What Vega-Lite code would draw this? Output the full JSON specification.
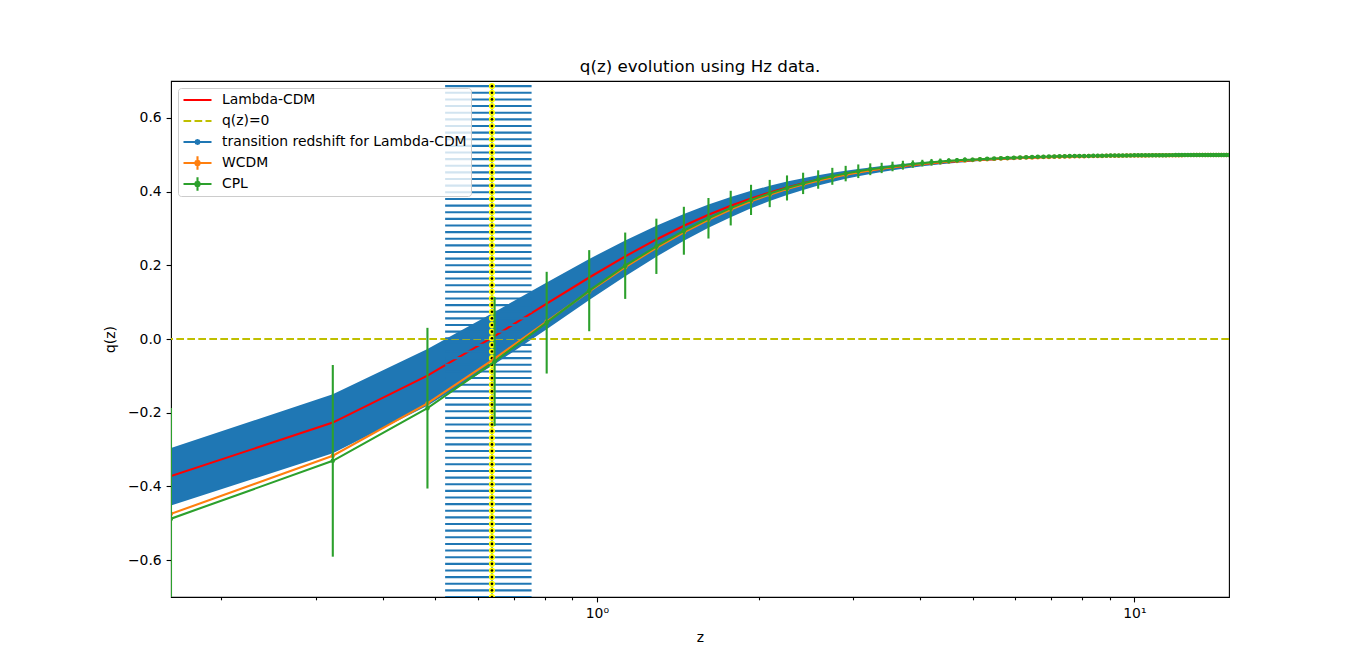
{
  "$schema": "https://vega.github.io/schema/vega-lite/v6.json",
  "width": 1058,
  "height": 516,
  "autosize": {"type": "none"},
  "padding": {"left": 171, "top": 81, "right": 137, "bottom": 74},
  "background": "white",
  "title": {"text": "q(z) evolution using Hz data.", "fontSize": 16.7, "font": "DejaVu Sans", "fontWeight": "normal", "offset": 5, "color": "black", "anchor": "middle"},
  "config": {
    "view": {"stroke": "black", "strokeWidth": 1.1},
    "axis": {"domain": false, "grid": false, "ticks": true, "tickColor": "black", "tickWidth": 1.1, "tickSize": 4.9, "labelPadding": 4.9, "labelFont": "DejaVu Sans", "labelFontSize": 13.9, "labelColor": "black", "titleFont": "DejaVu Sans", "titleFontSize": 13.9, "titleFontWeight": "normal", "titleColor": "black"},
    "legend": {"labelFont": "DejaVu Sans", "labelFontSize": 13.9, "labelColor": "black", "labelLimit": 400}
  },
  "datasets": {
    "curves": [
      {"z": 0.1613, "l": -0.3720, "lo": -0.4516, "hi": -0.2959, "w": -0.4744, "c": -0.4874, "e": 0.30},
      {"z": 0.3226, "l": -0.2268, "lo": -0.3102, "hi": -0.1502, "w": -0.3166, "c": -0.3306, "e": 0.26},
      {"z": 0.4839, "l": -0.0994, "lo": -0.1811, "hi": -0.0271, "w": -0.1747, "c": -0.1877, "e": 0.218},
      {"z": 0.6452, "l": 0.0078, "lo": -0.0685, "hi": 0.0733, "w": -0.0532, "c": -0.0612, "e": 0.175},
      {"z": 0.8065, "l": 0.0958, "lo": 0.0267, "hi": 0.1536, "w": 0.0473, "c": 0.0443, "e": 0.138},
      {"z": 0.9677, "l": 0.1669, "lo": 0.1057, "hi": 0.2172, "w": 0.1291, "c": 0.1311, "e": 0.11},
      {"z": 1.1290, "l": 0.2241, "lo": 0.1704, "hi": 0.2675, "w": 0.1948, "c": 0.1988, "e": 0.09},
      {"z": 1.2903, "l": 0.2701, "lo": 0.2233, "hi": 0.3074, "w": 0.2475, "c": 0.2515, "e": 0.075},
      {"z": 1.4516, "l": 0.3071, "lo": 0.2664, "hi": 0.3391, "w": 0.2897, "c": 0.2937, "e": 0.065},
      {"z": 1.6129, "l": 0.3370, "lo": 0.3017, "hi": 0.3646, "w": 0.3236, "c": 0.3276, "e": 0.055},
      {"z": 1.7742, "l": 0.3613, "lo": 0.3306, "hi": 0.3852, "w": 0.3511, "c": 0.3551, "e": 0.047},
      {"z": 1.9355, "l": 0.3813, "lo": 0.3545, "hi": 0.4019, "w": 0.3734, "c": 0.3774, "e": 0.041},
      {"z": 2.0968, "l": 0.3977, "lo": 0.3743, "hi": 0.4156, "w": 0.3917, "c": 0.3947, "e": 0.037},
      {"z": 2.2581, "l": 0.4112, "lo": 0.3907, "hi": 0.4270, "w": 0.4068, "c": 0.4098, "e": 0.034},
      {"z": 2.4194, "l": 0.4226, "lo": 0.4045, "hi": 0.4364, "w": 0.4192, "c": 0.4222, "e": 0.029},
      {"z": 2.5806, "l": 0.4322, "lo": 0.4162, "hi": 0.4443, "w": 0.4297, "c": 0.4327, "e": 0.025},
      {"z": 2.7419, "l": 0.4402, "lo": 0.4260, "hi": 0.4510, "w": 0.4384, "c": 0.4414, "e": 0.023},
      {"z": 2.9032, "l": 0.4471, "lo": 0.4345, "hi": 0.4566, "w": 0.4458, "c": 0.4488, "e": 0.021},
      {"z": 3.0645, "l": 0.4529, "lo": 0.4417, "hi": 0.4615, "w": 0.4521, "c": 0.4551, "e": 0.0185},
      {"z": 3.2258, "l": 0.4580, "lo": 0.4479, "hi": 0.4656, "w": 0.4575, "c": 0.4605, "e": 0.016},
      {"z": 3.3871, "l": 0.4623, "lo": 0.4532, "hi": 0.4692, "w": 0.4621, "c": 0.4641, "e": 0.014},
      {"z": 3.5484, "l": 0.4661, "lo": 0.4579, "hi": 0.4723, "w": 0.4661, "c": 0.4681, "e": 0.013},
      {"z": 3.7097, "l": 0.4694, "lo": 0.4620, "hi": 0.4750, "w": 0.4696, "c": 0.4716, "e": 0.012},
      {"z": 3.8710, "l": 0.4723, "lo": 0.4655, "hi": 0.4774, "w": 0.4726, "c": 0.4746, "e": 0.010},
      {"z": 4.0323, "l": 0.4748, "lo": 0.4687, "hi": 0.4794, "w": 0.4752, "c": 0.4772, "e": 0.009},
      {"z": 4.1935, "l": 0.4771, "lo": 0.4715, "hi": 0.4813, "w": 0.4775, "c": 0.4795, "e": 0.009},
      {"z": 4.3548, "l": 0.4791, "lo": 0.4739, "hi": 0.4829, "w": 0.4796, "c": 0.4816, "e": 0.008},
      {"z": 4.5161, "l": 0.4808, "lo": 0.4761, "hi": 0.4843, "w": 0.4814, "c": 0.4834, "e": 0.007},
      {"z": 4.6774, "l": 0.4824, "lo": 0.4781, "hi": 0.4856, "w": 0.4830, "c": 0.4850, "e": 0.006},
      {"z": 4.8387, "l": 0.4838, "lo": 0.4798, "hi": 0.4868, "w": 0.4844, "c": 0.4864, "e": 0.006},
      {"z": 5.0, "l": 0.4850, "lo": 0.4814, "hi": 0.4878, "w": 0.4857, "c": 0.4867, "e": 0.005},
      {"z": 5.1613, "l": 0.4862, "lo": 0.4828, "hi": 0.4887, "w": 0.4868, "c": 0.4878, "e": 0.005},
      {"z": 5.3226, "l": 0.4872, "lo": 0.4840, "hi": 0.4896, "w": 0.4878, "c": 0.4888, "e": 0.004},
      {"z": 5.4839, "l": 0.4881, "lo": 0.4852, "hi": 0.4903, "w": 0.4887, "c": 0.4897, "e": 0.004},
      {"z": 5.6452, "l": 0.4890, "lo": 0.4862, "hi": 0.4910, "w": 0.4896, "c": 0.4906, "e": 0.004},
      {"z": 5.8065, "l": 0.4897, "lo": 0.4872, "hi": 0.4916, "w": 0.4903, "c": 0.4913, "e": 0.003},
      {"z": 5.9677, "l": 0.4904, "lo": 0.4880, "hi": 0.4922, "w": 0.4910, "c": 0.4920, "e": 0.003},
      {"z": 6.1290, "l": 0.4911, "lo": 0.4888, "hi": 0.4927, "w": 0.4916, "c": 0.4926, "e": 0.003},
      {"z": 6.2903, "l": 0.4916, "lo": 0.4896, "hi": 0.4932, "w": 0.4922, "c": 0.4932, "e": 0.003},
      {"z": 6.4516, "l": 0.4922, "lo": 0.4902, "hi": 0.4936, "w": 0.4927, "c": 0.4937, "e": 0.003},
      {"z": 6.6129, "l": 0.4926, "lo": 0.4908, "hi": 0.4940, "w": 0.4932, "c": 0.4942, "e": 0.002},
      {"z": 6.7742, "l": 0.4931, "lo": 0.4914, "hi": 0.4944, "w": 0.4936, "c": 0.4946, "e": 0.002},
      {"z": 6.9355, "l": 0.4935, "lo": 0.4919, "hi": 0.4947, "w": 0.4940, "c": 0.4950, "e": 0.002},
      {"z": 7.0968, "l": 0.4939, "lo": 0.4924, "hi": 0.4950, "w": 0.4944, "c": 0.4954, "e": 0.002},
      {"z": 7.2581, "l": 0.4942, "lo": 0.4928, "hi": 0.4953, "w": 0.4947, "c": 0.4957, "e": 0.002},
      {"z": 7.4194, "l": 0.4946, "lo": 0.4932, "hi": 0.4956, "w": 0.4950, "c": 0.4960, "e": 0.002},
      {"z": 7.5806, "l": 0.4949, "lo": 0.4936, "hi": 0.4958, "w": 0.4953, "c": 0.4963, "e": 0.002},
      {"z": 7.7419, "l": 0.4951, "lo": 0.4939, "hi": 0.4960, "w": 0.4956, "c": 0.4966, "e": 0.002},
      {"z": 7.9032, "l": 0.4954, "lo": 0.4942, "hi": 0.4962, "w": 0.4958, "c": 0.4968, "e": 0.002},
      {"z": 8.0645, "l": 0.4956, "lo": 0.4945, "hi": 0.4964, "w": 0.4961, "c": 0.4966, "e": 0.002},
      {"z": 8.2258, "l": 0.4959, "lo": 0.4948, "hi": 0.4966, "w": 0.4963, "c": 0.4968, "e": 0.002},
      {"z": 8.3871, "l": 0.4961, "lo": 0.4951, "hi": 0.4968, "w": 0.4965, "c": 0.4970, "e": 0.002},
      {"z": 8.5484, "l": 0.4963, "lo": 0.4953, "hi": 0.4970, "w": 0.4967, "c": 0.4972, "e": 0.002},
      {"z": 8.7097, "l": 0.4964, "lo": 0.4956, "hi": 0.4971, "w": 0.4968, "c": 0.4973, "e": 0.002},
      {"z": 8.8710, "l": 0.4966, "lo": 0.4958, "hi": 0.4972, "w": 0.4970, "c": 0.4975, "e": 0.002},
      {"z": 9.0323, "l": 0.4968, "lo": 0.4960, "hi": 0.4974, "w": 0.4971, "c": 0.4976, "e": 0.002},
      {"z": 9.1935, "l": 0.4969, "lo": 0.4962, "hi": 0.4975, "w": 0.4973, "c": 0.4978, "e": 0.002},
      {"z": 9.3548, "l": 0.4971, "lo": 0.4963, "hi": 0.4976, "w": 0.4974, "c": 0.4979, "e": 0.002},
      {"z": 9.5161, "l": 0.4972, "lo": 0.4965, "hi": 0.4977, "w": 0.4975, "c": 0.4980, "e": 0.002},
      {"z": 9.6774, "l": 0.4973, "lo": 0.4967, "hi": 0.4978, "w": 0.4976, "c": 0.4981, "e": 0.002},
      {"z": 9.8387, "l": 0.4974, "lo": 0.4968, "hi": 0.4979, "w": 0.4978, "c": 0.4982, "e": 0.001},
      {"z": 10.0, "l": 0.4976, "lo": 0.4969, "hi": 0.4980, "w": 0.4979, "c": 0.4983, "e": 0.001},
      {"z": 10.1613, "l": 0.4977, "lo": 0.4971, "hi": 0.4981, "w": 0.4980, "c": 0.4984, "e": 0.001},
      {"z": 10.3226, "l": 0.4978, "lo": 0.4972, "hi": 0.4982, "w": 0.4980, "c": 0.4984, "e": 0.001},
      {"z": 10.4839, "l": 0.4978, "lo": 0.4973, "hi": 0.4982, "w": 0.4981, "c": 0.4985, "e": 0.001},
      {"z": 10.6452, "l": 0.4979, "lo": 0.4974, "hi": 0.4983, "w": 0.4982, "c": 0.4985, "e": 0.001},
      {"z": 10.8065, "l": 0.4980, "lo": 0.4975, "hi": 0.4984, "w": 0.4983, "c": 0.4986, "e": 0.001},
      {"z": 10.9677, "l": 0.4981, "lo": 0.4976, "hi": 0.4985, "w": 0.4984, "c": 0.4987, "e": 0.001},
      {"z": 11.1290, "l": 0.4982, "lo": 0.4977, "hi": 0.4985, "w": 0.4984, "c": 0.4987, "e": 0.001},
      {"z": 11.2903, "l": 0.4982, "lo": 0.4978, "hi": 0.4986, "w": 0.4985, "c": 0.4988, "e": 0.001},
      {"z": 11.4516, "l": 0.4983, "lo": 0.4979, "hi": 0.4986, "w": 0.4985, "c": 0.4988, "e": 0.001},
      {"z": 11.6129, "l": 0.4984, "lo": 0.4980, "hi": 0.4987, "w": 0.4986, "c": 0.4989, "e": 0.001},
      {"z": 11.7742, "l": 0.4984, "lo": 0.4980, "hi": 0.4987, "w": 0.4987, "c": 0.4989, "e": 0.001},
      {"z": 11.9355, "l": 0.4985, "lo": 0.4981, "hi": 0.4988, "w": 0.4987, "c": 0.4990, "e": 0.001},
      {"z": 12.0968, "l": 0.4985, "lo": 0.4982, "hi": 0.4988, "w": 0.4988, "c": 0.4990, "e": 0.001},
      {"z": 12.2581, "l": 0.4986, "lo": 0.4983, "hi": 0.4989, "w": 0.4988, "c": 0.4990, "e": 0.001},
      {"z": 12.4194, "l": 0.4987, "lo": 0.4983, "hi": 0.4989, "w": 0.4989, "c": 0.4991, "e": 0.001},
      {"z": 12.5806, "l": 0.4987, "lo": 0.4984, "hi": 0.4989, "w": 0.4989, "c": 0.4991, "e": 0.001},
      {"z": 12.7419, "l": 0.4987, "lo": 0.4984, "hi": 0.4990, "w": 0.4989, "c": 0.4991, "e": 0.001},
      {"z": 12.9032, "l": 0.4988, "lo": 0.4985, "hi": 0.4990, "w": 0.4990, "c": 0.4992, "e": 0.001},
      {"z": 13.0645, "l": 0.4988, "lo": 0.4985, "hi": 0.4990, "w": 0.4990, "c": 0.4992, "e": 0.001},
      {"z": 13.2258, "l": 0.4989, "lo": 0.4986, "hi": 0.4991, "w": 0.4990, "c": 0.4992, "e": 0.001},
      {"z": 13.3871, "l": 0.4989, "lo": 0.4986, "hi": 0.4991, "w": 0.4991, "c": 0.4993, "e": 0.001},
      {"z": 13.5484, "l": 0.4989, "lo": 0.4987, "hi": 0.4991, "w": 0.4991, "c": 0.4993, "e": 0.001},
      {"z": 13.7097, "l": 0.4990, "lo": 0.4987, "hi": 0.4992, "w": 0.4991, "c": 0.4993, "e": 0.001},
      {"z": 13.8710, "l": 0.4990, "lo": 0.4988, "hi": 0.4992, "w": 0.4992, "c": 0.4993, "e": 0.001},
      {"z": 14.0323, "l": 0.4990, "lo": 0.4988, "hi": 0.4992, "w": 0.4992, "c": 0.4994, "e": 0.001},
      {"z": 14.1935, "l": 0.4991, "lo": 0.4988, "hi": 0.4992, "w": 0.4992, "c": 0.4994, "e": 0.001},
      {"z": 14.3548, "l": 0.4991, "lo": 0.4989, "hi": 0.4993, "w": 0.4993, "c": 0.4994, "e": 0.001},
      {"z": 14.5161, "l": 0.4991, "lo": 0.4989, "hi": 0.4993, "w": 0.4993, "c": 0.4994, "e": 0.001},
      {"z": 14.6774, "l": 0.4992, "lo": 0.4989, "hi": 0.4993, "w": 0.4993, "c": 0.4995, "e": 0.001},
      {"z": 14.8387, "l": 0.4992, "lo": 0.4990, "hi": 0.4993, "w": 0.4993, "c": 0.4995, "e": 0.001},
      {"z": 15.0, "l": 0.4992, "lo": 0.4990, "hi": 0.4994, "w": 0.4993, "c": 0.4995, "e": 0.001}
    ],
    "trans": [
      {"zt": 0.638, "zlo": 0.522, "zhi": 0.756, "q": -0.700},
      {"zt": 0.638, "zlo": 0.522, "zhi": 0.756, "q": -0.682},
      {"zt": 0.638, "zlo": 0.522, "zhi": 0.756, "q": -0.664},
      {"zt": 0.638, "zlo": 0.522, "zhi": 0.756, "q": -0.646},
      {"zt": 0.638, "zlo": 0.522, "zhi": 0.756, "q": -0.628},
      {"zt": 0.638, "zlo": 0.522, "zhi": 0.756, "q": -0.610},
      {"zt": 0.638, "zlo": 0.522, "zhi": 0.756, "q": -0.592},
      {"zt": 0.638, "zlo": 0.522, "zhi": 0.756, "q": -0.574},
      {"zt": 0.638, "zlo": 0.522, "zhi": 0.756, "q": -0.556},
      {"zt": 0.638, "zlo": 0.522, "zhi": 0.756, "q": -0.538},
      {"zt": 0.638, "zlo": 0.522, "zhi": 0.756, "q": -0.520},
      {"zt": 0.638, "zlo": 0.522, "zhi": 0.756, "q": -0.502},
      {"zt": 0.638, "zlo": 0.522, "zhi": 0.756, "q": -0.484},
      {"zt": 0.638, "zlo": 0.522, "zhi": 0.756, "q": -0.466},
      {"zt": 0.638, "zlo": 0.522, "zhi": 0.756, "q": -0.448},
      {"zt": 0.638, "zlo": 0.522, "zhi": 0.756, "q": -0.430},
      {"zt": 0.638, "zlo": 0.522, "zhi": 0.756, "q": -0.412},
      {"zt": 0.638, "zlo": 0.522, "zhi": 0.756, "q": -0.394},
      {"zt": 0.638, "zlo": 0.522, "zhi": 0.756, "q": -0.376},
      {"zt": 0.638, "zlo": 0.522, "zhi": 0.756, "q": -0.358},
      {"zt": 0.638, "zlo": 0.522, "zhi": 0.756, "q": -0.340},
      {"zt": 0.638, "zlo": 0.522, "zhi": 0.756, "q": -0.322},
      {"zt": 0.638, "zlo": 0.522, "zhi": 0.756, "q": -0.304},
      {"zt": 0.638, "zlo": 0.522, "zhi": 0.756, "q": -0.286},
      {"zt": 0.638, "zlo": 0.522, "zhi": 0.756, "q": -0.268},
      {"zt": 0.638, "zlo": 0.522, "zhi": 0.756, "q": -0.250},
      {"zt": 0.638, "zlo": 0.522, "zhi": 0.756, "q": -0.232},
      {"zt": 0.638, "zlo": 0.522, "zhi": 0.756, "q": -0.214},
      {"zt": 0.638, "zlo": 0.522, "zhi": 0.756, "q": -0.196},
      {"zt": 0.638, "zlo": 0.522, "zhi": 0.756, "q": -0.178},
      {"zt": 0.638, "zlo": 0.522, "zhi": 0.756, "q": -0.160},
      {"zt": 0.638, "zlo": 0.522, "zhi": 0.756, "q": -0.142},
      {"zt": 0.638, "zlo": 0.522, "zhi": 0.756, "q": -0.124},
      {"zt": 0.638, "zlo": 0.522, "zhi": 0.756, "q": -0.106},
      {"zt": 0.638, "zlo": 0.522, "zhi": 0.756, "q": -0.088},
      {"zt": 0.638, "zlo": 0.522, "zhi": 0.756, "q": -0.070},
      {"zt": 0.638, "zlo": 0.522, "zhi": 0.756, "q": -0.052},
      {"zt": 0.638, "zlo": 0.522, "zhi": 0.756, "q": -0.034},
      {"zt": 0.638, "zlo": 0.522, "zhi": 0.756, "q": -0.016},
      {"zt": 0.638, "zlo": 0.522, "zhi": 0.756, "q": 0.002},
      {"zt": 0.638, "zlo": 0.522, "zhi": 0.756, "q": 0.020},
      {"zt": 0.638, "zlo": 0.522, "zhi": 0.756, "q": 0.038},
      {"zt": 0.638, "zlo": 0.522, "zhi": 0.756, "q": 0.056},
      {"zt": 0.638, "zlo": 0.522, "zhi": 0.756, "q": 0.074},
      {"zt": 0.638, "zlo": 0.522, "zhi": 0.756, "q": 0.092},
      {"zt": 0.638, "zlo": 0.522, "zhi": 0.756, "q": 0.110},
      {"zt": 0.638, "zlo": 0.522, "zhi": 0.756, "q": 0.128},
      {"zt": 0.638, "zlo": 0.522, "zhi": 0.756, "q": 0.146},
      {"zt": 0.638, "zlo": 0.522, "zhi": 0.756, "q": 0.164},
      {"zt": 0.638, "zlo": 0.522, "zhi": 0.756, "q": 0.182},
      {"zt": 0.638, "zlo": 0.522, "zhi": 0.756, "q": 0.200},
      {"zt": 0.638, "zlo": 0.522, "zhi": 0.756, "q": 0.218},
      {"zt": 0.638, "zlo": 0.522, "zhi": 0.756, "q": 0.236},
      {"zt": 0.638, "zlo": 0.522, "zhi": 0.756, "q": 0.254},
      {"zt": 0.638, "zlo": 0.522, "zhi": 0.756, "q": 0.272},
      {"zt": 0.638, "zlo": 0.522, "zhi": 0.756, "q": 0.290},
      {"zt": 0.638, "zlo": 0.522, "zhi": 0.756, "q": 0.308},
      {"zt": 0.638, "zlo": 0.522, "zhi": 0.756, "q": 0.326},
      {"zt": 0.638, "zlo": 0.522, "zhi": 0.756, "q": 0.344},
      {"zt": 0.638, "zlo": 0.522, "zhi": 0.756, "q": 0.362},
      {"zt": 0.638, "zlo": 0.522, "zhi": 0.756, "q": 0.380},
      {"zt": 0.638, "zlo": 0.522, "zhi": 0.756, "q": 0.398},
      {"zt": 0.638, "zlo": 0.522, "zhi": 0.756, "q": 0.416},
      {"zt": 0.638, "zlo": 0.522, "zhi": 0.756, "q": 0.434},
      {"zt": 0.638, "zlo": 0.522, "zhi": 0.756, "q": 0.452},
      {"zt": 0.638, "zlo": 0.522, "zhi": 0.756, "q": 0.470},
      {"zt": 0.638, "zlo": 0.522, "zhi": 0.756, "q": 0.488},
      {"zt": 0.638, "zlo": 0.522, "zhi": 0.756, "q": 0.506},
      {"zt": 0.638, "zlo": 0.522, "zhi": 0.756, "q": 0.524},
      {"zt": 0.638, "zlo": 0.522, "zhi": 0.756, "q": 0.542},
      {"zt": 0.638, "zlo": 0.522, "zhi": 0.756, "q": 0.560},
      {"zt": 0.638, "zlo": 0.522, "zhi": 0.756, "q": 0.578},
      {"zt": 0.638, "zlo": 0.522, "zhi": 0.756, "q": 0.596},
      {"zt": 0.638, "zlo": 0.522, "zhi": 0.756, "q": 0.614},
      {"zt": 0.638, "zlo": 0.522, "zhi": 0.756, "q": 0.632},
      {"zt": 0.638, "zlo": 0.522, "zhi": 0.756, "q": 0.650},
      {"zt": 0.638, "zlo": 0.522, "zhi": 0.756, "q": 0.668},
      {"zt": 0.638, "zlo": 0.522, "zhi": 0.756, "q": 0.686}
    ],
    "zero": [{"q": 0}]
  },
  "layer": [
    {
      "data": {"name": "curves"},
      "mark": {"type": "area", "color": "#1f77b4", "opacity": 1, "clip": true},
      "encoding": {
        "x": {"field": "z", "type": "quantitative", "title": "z",
              "scale": {"type": "log", "domain": [0.1613, 15], "nice": false},
              "axis": {"values": [0.2, 0.3, 0.4, 0.5, 0.6, 0.7, 0.8, 0.9, 1, 2, 3, 4, 5, 6, 7, 8, 9, 10],
                       "labelExpr": "datum.value == 1 ? '10⁰' : (datum.value == 10 ? '10¹' : '')",
                       "tickSize": {"condition": {"test": "datum.value == 1 || datum.value == 10", "value": 4.9}, "value": 2.8},
                       "labelOverlap": false, "labelFlush": false, "titlePadding": 10}},
        "y": {"field": "lo", "type": "quantitative", "title": "q(z)",
              "scale": {"domain": [-0.7, 0.7], "nice": false, "zero": false},
              "axis": {"values": [-0.6, -0.4, -0.2, 0, 0.2, 0.4, 0.6], "format": ".1f",
                       "labelExpr": "replace(datum.label, '-', '−')", "titlePadding": 10}},
        "y2": {"field": "hi"}
      }
    },
    {
      "data": {"name": "curves"},
      "mark": {"type": "line", "strokeWidth": 2.1, "clip": true},
      "encoding": {
        "x": {"field": "z", "type": "quantitative", "title": "z"},
        "y": {"field": "l", "type": "quantitative", "title": "q(z)"},
        "color": {"datum": "Lambda-CDM", "type": "nominal",
                  "scale": {"domain": ["Lambda-CDM", "q(z)=0", "transition redshift for Lambda-CDM", "WCDM", "CPL"],
                            "range": ["#ff0000", "#bfbf00", "#1f77b4", "#ff7f0e", "#2ca02c"]},
                  "legend": {"title": null, "orient": "top-left", "offset": 7, "padding": 4, "rowPadding": 5, "clipHeight": 16,
                             "symbolType": "M-2,0H2", "symbolSize": 196, "symbolStrokeWidth": 2.1, "symbolOffset": 7, "labelOffset": 16,
                             "fillColor": "rgba(255,255,255,0.8)", "strokeColor": "#cccccc", "cornerRadius": 3,
                             "encode": {"symbols": {"update": {
                               "shape": {"signal": "(datum.value == 'WCDM' || datum.value == 'CPL') ? 'M-2,0H2M0,-0.96V0.96M-0.34,0L-0.24,-0.24L0,-0.34L0.24,-0.24L0.34,0L0.24,0.24L0,0.34L-0.24,0.24Z' : (datum.value == 'transition redshift for Lambda-CDM' ? 'M-2,0H2M-0.28,0L-0.2,-0.2L0,-0.28L0.2,-0.2L0.28,0L0.2,0.2L0,0.28L-0.2,0.2Z' : 'M-2,0H2')"},
                               "fill": {"signal": "datum.value == 'WCDM' ? '#ff7f0e' : (datum.value == 'CPL' ? '#2ca02c' : (datum.value == 'transition redshift for Lambda-CDM' ? '#000000' : 'transparent'))"},
                               "strokeDash": {"signal": "datum.value == 'q(z)=0' ? [7.7, 3.3] : [1, 0]"}
                             }}}}}
      }
    },
    {
      "data": {"name": "zero"},
      "mark": {"type": "rule", "strokeWidth": 2.1, "strokeDash": [7.7, 3.3]},
      "encoding": {
        "y": {"field": "q", "type": "quantitative", "title": "q(z)"},
        "color": {"datum": "q(z)=0", "type": "nominal"}
      }
    },
    {
      "data": {"name": "trans"},
      "mark": {"type": "rule", "strokeWidth": 2.1, "clip": true},
      "encoding": {
        "x": {"field": "zlo", "type": "quantitative", "title": "z"},
        "x2": {"field": "zhi"},
        "y": {"field": "q", "type": "quantitative", "title": "q(z)"},
        "color": {"datum": "transition redshift for Lambda-CDM", "type": "nominal"}
      }
    },
    {
      "data": {"name": "trans"},
      "mark": {"type": "line", "strokeWidth": 1.6, "color": "#1f77b4", "clip": true},
      "encoding": {
        "x": {"field": "zt", "type": "quantitative", "title": "z"},
        "y": {"field": "q", "type": "quantitative", "title": "q(z)"}
      }
    },
    {
      "data": {"name": "trans"},
      "mark": {"type": "point", "shape": "circle", "filled": true, "color": "#ffff00", "size": 38, "opacity": 1, "clip": true},
      "encoding": {
        "x": {"field": "zt", "type": "quantitative", "title": "z"},
        "y": {"field": "q", "type": "quantitative", "title": "q(z)"}
      }
    },
    {
      "data": {"name": "trans"},
      "mark": {"type": "point", "shape": "circle", "filled": true, "color": "#000000", "size": 7, "opacity": 1, "clip": true},
      "encoding": {
        "x": {"field": "zt", "type": "quantitative", "title": "z"},
        "y": {"field": "q", "type": "quantitative", "title": "q(z)"}
      }
    },
    {
      "data": {"name": "curves"},
      "mark": {"type": "line", "strokeWidth": 2.1, "clip": true},
      "encoding": {
        "x": {"field": "z", "type": "quantitative", "title": "z"},
        "y": {"field": "w", "type": "quantitative", "title": "q(z)"},
        "color": {"datum": "WCDM", "type": "nominal"}
      }
    },
    {
      "data": {"name": "curves"},
      "mark": {"type": "point", "shape": "circle", "filled": true, "color": "#ff7f0e", "size": 20, "opacity": 1, "clip": true},
      "encoding": {
        "x": {"field": "z", "type": "quantitative", "title": "z"},
        "y": {"field": "w", "type": "quantitative", "title": "q(z)"}
      }
    },
    {
      "data": {"name": "curves"},
      "mark": {"type": "errorbar", "color": "#2ca02c", "thickness": 2.1, "clip": true},
      "encoding": {
        "x": {"field": "z", "type": "quantitative", "title": "z"},
        "y": {"field": "c", "type": "quantitative", "title": "q(z)"},
        "yError": {"field": "e"}
      }
    },
    {
      "data": {"name": "curves"},
      "mark": {"type": "line", "strokeWidth": 2.1, "clip": true},
      "encoding": {
        "x": {"field": "z", "type": "quantitative", "title": "z"},
        "y": {"field": "c", "type": "quantitative", "title": "q(z)"},
        "color": {"datum": "CPL", "type": "nominal"}
      }
    },
    {
      "data": {"name": "curves"},
      "mark": {"type": "point", "shape": "circle", "filled": true, "color": "#2ca02c", "size": 20, "opacity": 1, "clip": true},
      "encoding": {
        "x": {"field": "z", "type": "quantitative", "title": "z"},
        "y": {"field": "c", "type": "quantitative", "title": "q(z)"}
      }
    }
  ]
}
